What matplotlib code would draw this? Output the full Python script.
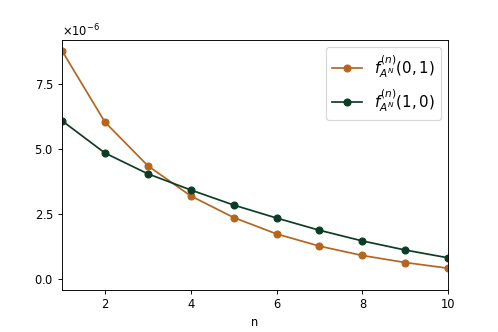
import matplotlib
matplotlib.use("Agg")
import matplotlib.pyplot as plt

# values (units of 1e-6)
n = [1, 2, 3, 4, 5, 6, 7, 8, 9, 10]
f01 = [8.78, 6.04, 4.36, 3.20, 2.37, 1.74, 1.27, 0.91, 0.64, 0.42]
f10 = [6.09, 4.85, 4.05, 3.43, 2.85, 2.35, 1.88, 1.47, 1.12, 0.82]

fig, ax = plt.subplots(figsize=(6, 4), dpi=83)
fig.subplots_adjust(left=0.1245, right=0.9, top=0.88, bottom=0.127)

ax.plot(n, [v * 1e-6 for v in f01], marker="o", color="#b5651d",
        label=r"$f^{(n)}_{A^N}(0,1)$")
ax.plot(n, [v * 1e-6 for v in f10], marker="o", color="#0b3d24",
        label=r"$f^{(n)}_{A^N}(1,0)$")

ax.set_xlim(1, 10)
ax.set_ylim(-0.41e-6, 9.2e-6)
ax.set_xticks([2, 4, 6, 8, 10])
ax.set_yticks([0, 2.5e-6, 5e-6, 7.5e-6])
ax.ticklabel_format(axis="y", style="sci", scilimits=(0, 0), useMathText=True)
ax.set_xlabel("n")
ax.legend(fontsize=13)

fig.savefig("out.png", dpi=83)
